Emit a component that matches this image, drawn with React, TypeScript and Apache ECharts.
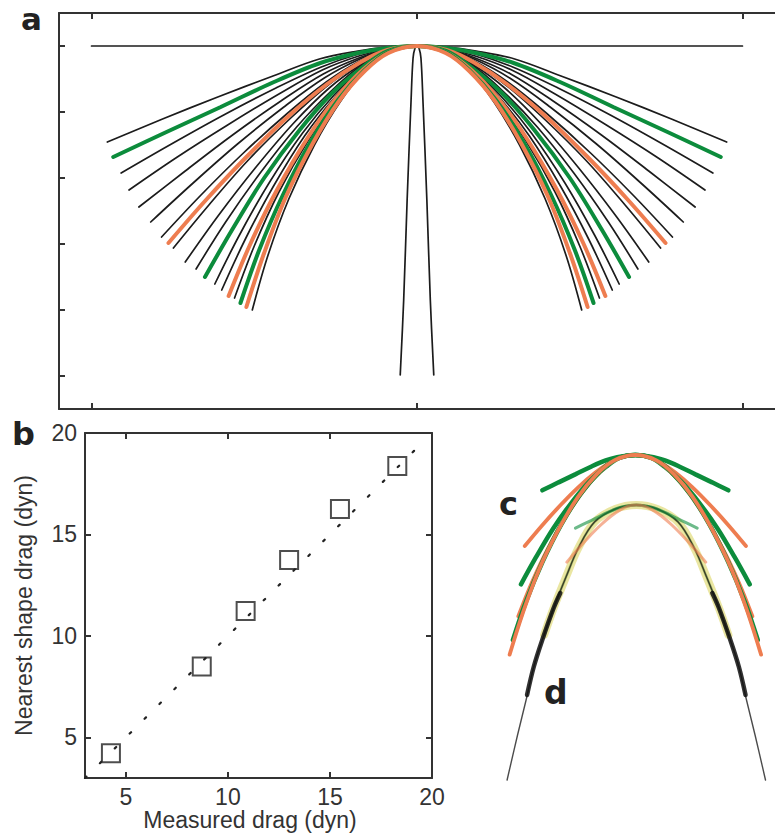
import React, { useEffect, useRef } from "react";
import * as echarts from "echarts";

// ---------- Panel a: filament half-shapes ----------
// u = lateral distance from the apex, v = depth below the apex (half-length of filament = 330 units)
const shape01 = [[0, 0], [30, 1], [60, 5], [99, 13], [146, 30], [202, 51], [258, 73], [314, 96]];
const shape02 = [[0, 0], [30, 2], [60, 7], [98, 17], [145, 36], [199, 61], [254, 86], [308, 111]];
const shape03 = [[0, 0], [30, 2], [59, 8], [97, 21], [143, 42], [196, 69], [249, 98], [300, 127]];
const shape04 = [[0, 0], [30, 3], [59, 10], [96, 24], [140, 48], [192, 79], [243, 111], [292, 144]];
const shape05 = [[0, 0], [30, 3], [59, 12], [95, 28], [138, 55], [187, 89], [235, 125], [282, 161]];
const shape06 = [[0, 0], [30, 3], [58, 13], [94, 32], [135, 61], [182, 98], [227, 137], [270, 176]];
const shape07 = [[0, 0], [30, 4], [58, 15], [92, 36], [131, 67], [176, 107], [219, 149], [259, 191]];
const shape08 = [[0, 0], [30, 4], [57, 16], [91, 38], [129, 69], [173, 111], [214, 154], [252, 197]];
const shape09 = [[0, 0], [30, 4], [57, 17], [90, 39], [128, 72], [171, 114], [211, 159], [247, 202]];
const shape10 = [[0, 0], [30, 5], [56, 18], [89, 42], [125, 77], [164, 122], [201, 169], [235, 216]];
const shape11 = [[0, 0], [30, 5], [56, 19], [87, 45], [122, 81], [159, 127], [194, 176], [224, 223]];
const shape12 = [[0, 0], [30, 5], [55, 21], [86, 47], [119, 84], [155, 132], [187, 183], [215, 231]];
const shape13 = [[0, 0], [30, 6], [55, 22], [84, 49], [116, 87], [150, 137], [180, 189], [205, 238]];
const shape14 = [[0, 0], [29, 6], [54, 22], [83, 51], [114, 90], [146, 141], [174, 193], [198, 244]];
const shape15 = [[0, 0], [29, 6], [54, 23], [82, 52], [111, 92], [142, 144], [169, 198], [191, 250]];
const shape16 = [[0, 0], [29, 6], [54, 24], [81, 53], [110, 94], [140, 146], [165, 200], [185, 252]];
const shape17 = [[0, 0], [29, 6], [53, 24], [80, 54], [108, 96], [136, 149], [160, 204], [179, 257]];
const shape18 = [[0, 0], [29, 7], [53, 25], [79, 55], [106, 98], [133, 151], [155, 207], [173, 261]];
const shape19 = [[0, 0], [29, 7], [53, 25], [78, 56], [104, 99], [130, 153], [151, 209], [167, 264]];

const shapes = [
  shape01, shape02, shape03, shape04, shape05, shape06, shape07, shape08, shape09, shape10,
  shape11, shape12, shape13, shape14, shape15, shape16, shape17, shape18, shape19,
];
const shapeKinds = [
  "black", "green", "black", "black", "black", "black", "black", "orange", "black", "black",
  "black", "green", "black", "black", "orange", "black", "green", "orange", "black",
];
const restShapeHalf = [[0, 0], [330, 0]];
const limitShapeHalf = [[0, 0], [2, 2], [4, 12], [6, 54], [10, 154], [13.5, 254], [17, 329]];
const aXTicks = [-330, 0, 330];
const aYTicks = [0, 66, 132, 198, 264, 330];

// ---------- Panel b ----------
const measuredDrag = [4.27, 8.72, 10.87, 13.0, 15.49, 18.3];
const nearestShapeDrag = [4.22, 8.49, 11.23, 13.74, 16.26, 18.38];
const bTicks = [5, 10, 15, 20];
const identityLineEnds = [3, 19.4];

// ---------- Panels c and d ----------
const cdCurveNumbers = [2, 8, 12, 15, 17, 18];
const cScales = [0.318, 0.462, 0.56, 0.645, 0.72, 0.765];
const dCurveNumbers = [2, 8];
const dScales = [0.208, 0.29];
const dTraceHalf = [[0, 0], [22, 4], [44, 17], [61, 43], [74, 72], [87, 103], [99, 135], [108, 162], [116, 195], [125, 230], [136, 275]];
const dGlowHalf = [[0, 0], [22, 4], [44, 17], [61, 43], [74, 72], [87, 103], [97, 130]];
const dThickHalf = [[80, 88], [87, 103], [99, 135], [108, 162], [115, 190]];

const COLORS: Record<string, string> = { black: "#1c1c1c", green: "#0c8c3c", orange: "#ee7d50" };
const AXIS = "#333";

const mirror = (half: number[][]) => [
  ...half.slice(1).reverse().map(([u, v]) => [-u, v]),
  ...half,
];
const mirrorOpen = (half: number[][]) => half.map(([u, v]) => [-u, v]);

function buildOption() {
  const series: any[] = [];
  const line = (data: number[][], xi: number, yi: number, color: string, width: number, extra: any = {}) => ({
    type: "line",
    xAxisIndex: xi,
    yAxisIndex: yi,
    data,
    showSymbol: false,
    symbol: "none",
    smooth: 0.35,
    silent: true,
    lineStyle: { color, width, cap: "round", ...(extra.lineStyle || {}) },
    ...extra.rest,
  });

  // panel a
  series.push(line(mirror(restShapeHalf), 0, 0, COLORS.black, 1.7, { rest: { smooth: false } }));
  series.push(line(mirror(limitShapeHalf), 0, 0, COLORS.black, 1.7));
  shapes.forEach((s, i) => {
    if (shapeKinds[i] === "black") series.push(line(mirror(s), 0, 0, COLORS.black, 1.7));
  });
  shapes.forEach((s, i) => {
    if (shapeKinds[i] !== "black") series.push(line(mirror(s), 0, 0, COLORS[shapeKinds[i]], 4));
  });

  // panel b
  series.push({
    type: "line",
    xAxisIndex: 2,
    yAxisIndex: 1,
    data: [[identityLineEnds[0], identityLineEnds[0]], [identityLineEnds[1], identityLineEnds[1]]],
    showSymbol: false,
    symbol: "none",
    silent: true,
    lineStyle: { color: "#222", width: 2.2, type: [2, 19], cap: "round" },
  });
  series.push({
    type: "scatter",
    xAxisIndex: 2,
    yAxisIndex: 1,
    data: measuredDrag.map((m, i) => [m, nearestShapeDrag[i]]),
    symbol: "rect",
    symbolSize: 18,
    silent: true,
    itemStyle: { color: "rgba(0,0,0,0)", borderColor: "#222", borderWidth: 2 },
  });

  // panel d (drawn beneath c)
  series.push(line(mirror(dGlowHalf), 5, 4, "rgba(214,206,70,0.5)", 8));
  series.push(line(mirror(dGlowHalf), 5, 4, "rgba(110,150,50,0.55)", 2.5));
  series.push(line(mirror(dTraceHalf), 5, 4, "rgba(30,30,30,0.8)", 1.4));
  series.push(line(dThickHalf, 5, 4, "rgba(15,15,15,0.85)", 4.5));
  series.push(line(mirrorOpen(dThickHalf), 5, 4, "rgba(15,15,15,0.85)", 4.5));
  dCurveNumbers.forEach((n, i) => {
    const s = dScales[i];
    const kind = shapeKinds[n - 1];
    series.push(
      line(mirror(shapes[n - 1]).map(([u, v]) => [u * s, v * s]), 5, 4, COLORS[kind], 3, {
        rest: { lineStyle: { color: COLORS[kind], width: 3, opacity: 0.6, cap: "round" } },
      })
    );
  });

  // panel c
  cdCurveNumbers.forEach((n, i) => {
    const s = cScales[i];
    const kind = shapeKinds[n - 1];
    series.push(line(mirror(shapes[n - 1]).map(([u, v]) => [u * s, v * s]), 4, 3, COLORS[kind], kind === "green" ? 4.5 : 3.8));
  });

  const boxAxisLine = { onZero: false, lineStyle: { color: AXIS, width: 2 } };
  const tick = (vals: number[]) => ({ inside: true, length: 6, customValues: vals, lineStyle: { color: AXIS, width: 2 } });
  const labelFont = { fontFamily: "Liberation Sans", fontSize: 23, color: "#333" };
  const letter = { fontFamily: "DejaVu Sans", fontWeight: "bold", fill: "#222" };

  return {
    animation: false,
    backgroundColor: "#ffffff",
    grid: [
      { left: 59, top: 13, width: 726, height: 396 },
      { left: 85, top: 433, width: 347, height: 345 },
      { left: 490, top: 440, width: 300, height: 380 },
      { left: 490, top: 440, width: 300, height: 380 },
    ],
    xAxis: [
      { gridIndex: 0, type: "value", min: -363, max: 363, position: "bottom", axisLine: boxAxisLine, axisTick: tick(aXTicks), axisLabel: { show: false }, splitLine: { show: false } },
      { gridIndex: 0, type: "value", min: -363, max: 363, position: "top", axisLine: boxAxisLine, axisTick: tick(aXTicks), axisLabel: { show: false }, splitLine: { show: false } },
      {
        gridIndex: 1, type: "value", min: 3, max: 20, position: "bottom", axisLine: boxAxisLine, axisTick: tick(bTicks),
        axisLabel: { ...labelFont, margin: 7, customValues: bTicks }, splitLine: { show: false },
        name: "Measured drag (dyn)", nameLocation: "middle", nameGap: 30,
        nameTextStyle: { ...labelFont, padding: [0, 17, 0, 0] },
      },
      { gridIndex: 1, type: "value", min: 3, max: 20, position: "top", axisLine: boxAxisLine, axisTick: tick(bTicks), axisLabel: { show: false }, splitLine: { show: false } },
      { gridIndex: 2, type: "value", min: -153, max: 147, show: false },
      { gridIndex: 3, type: "value", min: -154, max: 146, show: false },
    ],
    yAxis: [
      { gridIndex: 0, type: "value", min: -33, max: 363, inverse: true, position: "left", axisLine: boxAxisLine, axisTick: tick(aYTicks), axisLabel: { show: false }, splitLine: { show: false } },
      {
        gridIndex: 1, type: "value", min: 3, max: 20, position: "left", axisLine: boxAxisLine, axisTick: tick(bTicks),
        axisLabel: { ...labelFont, margin: 8, customValues: bTicks }, splitLine: { show: false },
        name: "Nearest shape drag (dyn)", nameLocation: "middle", nameGap: 50, nameRotate: 90,
        nameTextStyle: { ...labelFont },
      },
      { gridIndex: 1, type: "value", min: 3, max: 20, position: "right", axisLine: boxAxisLine, axisTick: tick(bTicks), axisLabel: { show: false }, splitLine: { show: false } },
      { gridIndex: 2, type: "value", min: -15, max: 365, inverse: true, show: false },
      { gridIndex: 3, type: "value", min: -65, max: 315, inverse: true, show: false },
    ],
    graphic: [
      { type: "text", left: 21, top: 3, style: { ...letter, text: "a", fontSize: 31, lineHeight: 26 } },
      { type: "text", left: 12, top: 418, style: { ...letter, text: "b", fontSize: 32 } },
      { type: "text", left: 499, top: 488, style: { ...letter, text: "c", fontSize: 32 } },
      { type: "text", left: 544, top: 676, style: { ...letter, text: "d", fontSize: 33 } },
    ],
    series,
  };
}

export default function App() {
  const ref = useRef<HTMLDivElement>(null);
  useEffect(() => {
    document.body.style.margin = "0";
    const chart = echarts.init(ref.current as HTMLDivElement, undefined, { renderer: "svg" });
    chart.setOption(buildOption() as any);
    return () => chart.dispose();
  }, []);
  return <div ref={ref} style={{ width: 775, height: 840, overflow: "hidden" }} />;
}
